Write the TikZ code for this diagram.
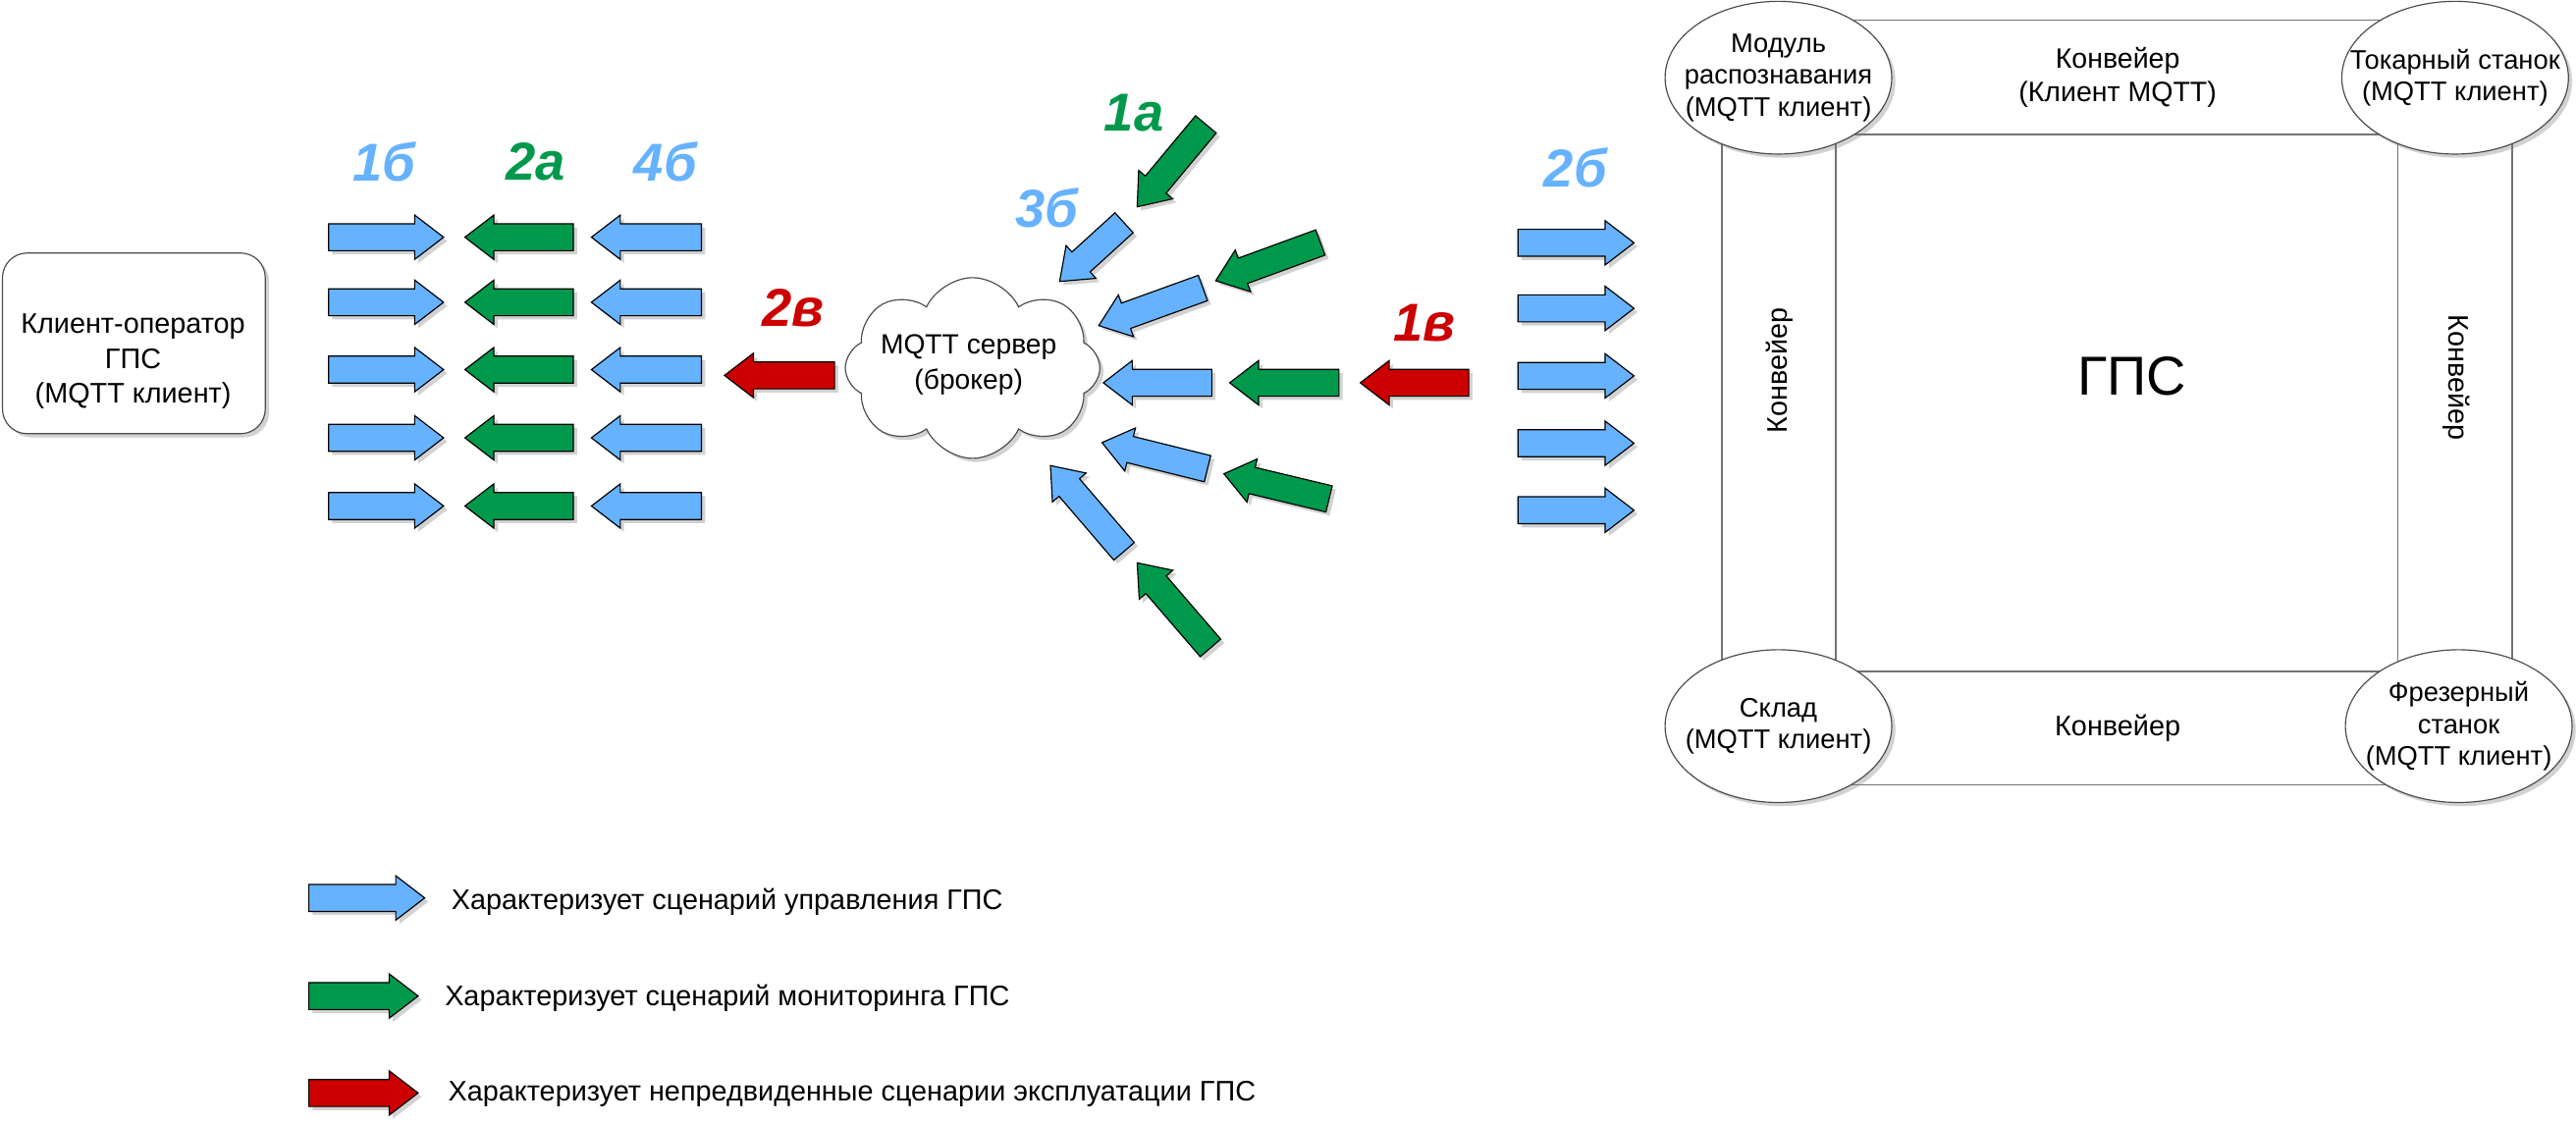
\documentclass[tikz,border=0pt]{standalone}
\usepackage{fontspec}
\setmainfont{Liberation Sans}
\usetikzlibrary{calc, positioning}
\usetikzlibrary{shapes.geometric, shapes.symbols}
\usetikzlibrary{shadows}

\definecolor{ctrlblue}{RGB}{102,178,255}
\definecolor{mongreen}{RGB}{0,153,76}
\definecolor{errred}{RGB}{204,0,0}

\def\shaft{0.164cm}
\def\headw{0.27cm}
\def\headlen{0.352cm}

\newcommand{\blockarrow}[3]{%
  \coordinate (ah) at ($#3!\headlen!#2$);
  \draw[#1] ($#2!\shaft!90:#3$) -- ($(ah)!\shaft!90:#3$) -- ($(ah)!\headw!90:#3$) -- #3
    -- ($(ah)!\headw!-90:#3$) -- ($(ah)!\shaft!-90:#3$) -- ($#2!\shaft!-90:#3$) -- cycle;}

\tikzset{
  softshadow/.style={drop shadow={shadow xshift=0.045cm, shadow yshift=-0.045cm, opacity=0.35}},
  barrow/.style={draw=black, line width=0.4pt, line join=miter, softshadow},
  ctrlarrow/.style={barrow, fill=ctrlblue},
  monarrow/.style={barrow, fill=mongreen},
  errarrow/.style={barrow, fill=errred},
  txt/.style={font=\fontsize{9.8}{12}\selectfont, align=center, inner sep=0pt},
  scenlbl/.style={font=\fontsize{18.5}{20}\selectfont\bfseries\itshape, inner sep=0pt},
  station/.style={ellipse, draw=black!70, fill=white, minimum width=2.76cm, minimum height=1.86cm,
    inner sep=0pt, softshadow},
  stationtxt/.style={align=center, inner sep=0pt, font=\fontsize{9.3}{11.1}\selectfont},
  belt/.style={draw=black!55, line width=0.5pt}
}

\begin{document}
\begin{tikzpicture}[x=0.02cm, y=-0.02cm]
\fill[white] (0,0) rectangle (1568,684);
\useasboundingbox (0,0) rectangle (1568,684);

\node[draw=black!70, fill=white, rounded corners=0.3cm, minimum width=3.2cm, minimum height=2.2cm, softshadow] (client) at (81.5,209) {};
\node[txt] (clientlbl) at (81,220) {Клиент-оператор\\ГПС\\(MQTT клиент)};

\foreach \y in {144.4,184,225,266.5,308}{
  \blockarrow{ctrlarrow}{(200,\y)}{(270,\y)}
  \blockarrow{monarrow}{(349,\y)}{(283,\y)}
  \blockarrow{ctrlarrow}{(427,\y)}{(360,\y)}
}
\node[scenlbl, text=ctrlblue] (l1b) at (234,98.6) {1б};
\node[scenlbl, text=mongreen] (l2a) at (326,98.6) {2а};
\node[scenlbl, text=ctrlblue] (l4b) at (405,98.6) {4б};

\blockarrow{errarrow}{(508,228.5)}{(441,228.5)}
\node[scenlbl, text=errred] (l2v) at (483,187.6) {2в};

\node[cloud, cloud puffs=8, cloud puff arc=130, aspect=1.4, draw=black!70, fill=white,
  minimum width=3.1cm, minimum height=2.2cm, inner sep=0pt, softshadow] (broker) at (592,224) {};
\node[txt, font=\fontsize{9.6}{12.5}\selectfont] (brokerlbl) at (589.6,222) {MQTT сервер\\(брокер)};

\blockarrow{monarrow}{(734,75.7)}{(692.2,125.9)}
\blockarrow{ctrlarrow}{(684.2,135.6)}{(645,171.3)}
\blockarrow{monarrow}{(803.7,147.6)}{(740,170.9)}
\blockarrow{ctrlarrow}{(732.2,175.3)}{(668.8,198.2)}
\blockarrow{ctrlarrow}{(737.6,233)}{(671.6,233)}
\blockarrow{monarrow}{(815,233)}{(748.5,233)}
\blockarrow{errarrow}{(894,233)}{(828,233)}
\blockarrow{ctrlarrow}{(735,285.3)}{(670.8,269.4)}
\blockarrow{monarrow}{(809,303.7)}{(745,288.4)}
\blockarrow{ctrlarrow}{(684.2,335.6)}{(639.4,283.4)}
\blockarrow{monarrow}{(736.8,394.4)}{(692.2,342.6)}
\node[scenlbl, text=mongreen] (l1a) at (690.2,68.7) {1а};
\node[scenlbl, text=ctrlblue] (l3b) at (637.4,126.5) {3б};
\node[scenlbl, text=errred] (l1v) at (867,196.7) {1в};

\foreach \y in {147.8,187.7,228.8,269.8,310.6}{
  \blockarrow{ctrlarrow}{(924,\y)}{(994.6,\y)}
}
\node[scenlbl, text=ctrlblue] (l2b) at (959,102.3) {2б};

\draw[belt] (1048,12.4) rectangle (1529,477.7);
\draw[belt] (1117.5,81.9) rectangle (1459.6,408.6);
\node[txt, font=\fontsize{9.7}{11.5}\selectfont] (convtop) at (1289,46.9) {Конвейер\\(Клиент MQTT)};
\node[txt, rotate=90] (convleft) at (1083,225.6) {Конвейер};
\node[txt, rotate=-90] (convright) at (1495.4,230) {Конвейер};
\node[txt] (convbot) at (1289,443.5) {Конвейер};
\node[font=\fontsize{19}{22}\selectfont, inner sep=0pt] (gps) at (1297.6,228.8) {ГПС};

\node[station] (vision) at (1082.5,47.3) {};
\node[station] (lathe) at (1494.4,47.3) {};
\node[station] (store) at (1082.5,442) {};
\node[station] (mill) at (1496.6,442) {};
\node[stationtxt] (visionlbl) at (vision) {Модуль\\распознавания\\(MQTT клиент)};
\node[stationtxt] (lathelbl) at (lathe) {Токарный станок\\(MQTT клиент)};
\node[stationtxt] (storelbl) at (store) {Склад\\(MQTT клиент)};
\node[stationtxt] (milllbl) at (mill) {Фрезерный\\станок\\(MQTT клиент)};

\blockarrow{ctrlarrow}{(188,546.6)}{(258.5,546.6)}
\blockarrow{monarrow}{(188,606.3)}{(254.5,606.3)}
\blockarrow{errarrow}{(188,665.3)}{(254.5,665.3)}
\node[txt, anchor=west] (legctrl) at (274.5,549) {Характеризует сценарий управления ГПС};
\node[txt, anchor=west] (legmon) at (270.5,607.3) {Характеризует сценарий мониторинга ГПС};
\node[txt, anchor=west] (legerr) at (272.5,665.7) {Характеризует непредвиденные сценарии эксплуатации ГПС};
\end{tikzpicture}
\end{document}
